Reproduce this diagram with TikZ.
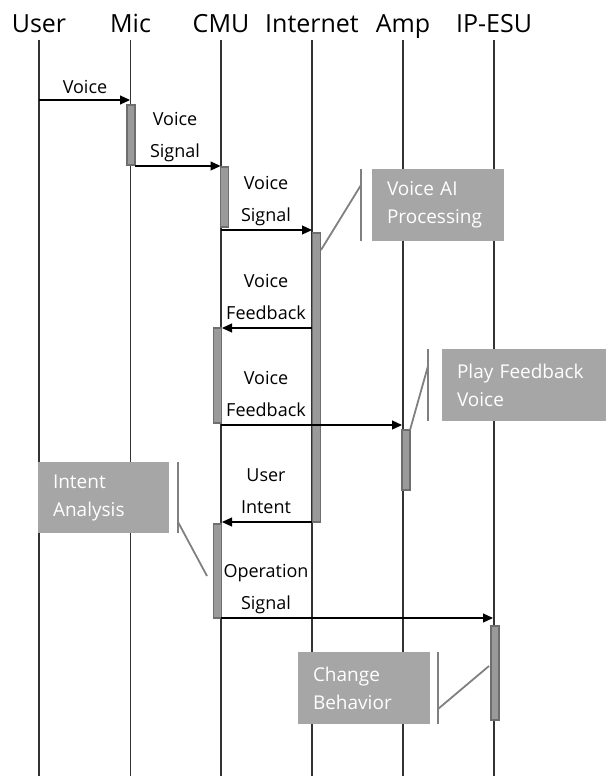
\documentclass[tikz,border=0pt]{standalone}
\usepackage{fontspec}
\setmainfont{Open Sans}
\usetikzlibrary{arrows.meta}
\definecolor{notefill}{HTML}{A6A6A6}
\definecolor{barfill}{HTML}{9A9A9A}
\definecolor{barline}{HTML}{6E6E6E}
\definecolor{linkgray}{HTML}{808080}
\begin{document}
\begin{tikzpicture}[x=1pt,y=-1pt,
  head/.style={font=\fontsize{25}{28}\selectfont, inner sep=0pt, anchor=base},
  life/.style={draw=black!80, line width=1.2pt},
  actbar/.style={rectangle, draw=barline, fill=barfill, line width=1.1pt, minimum width=8pt, inner sep=0pt},
  msg/.style={draw=black, line width=1.2pt, -{Triangle[length=10pt,width=9pt]}},
  lbl/.style={font=\fontsize{18}{32}\selectfont, align=center, inner sep=0pt, anchor=base},
  note/.style={rectangle, fill=notefill, text=white, font=\fontsize{19}{28}\selectfont, align=left, inner ysep=0pt, inner xsep=15pt, minimum height=72pt},
  notebar/.style={draw=linkgray, line width=2.4pt},
  notelink/.style={draw=linkgray, line width=1.8pt},
]
\useasboundingbox (0,0) rectangle (607,776);

% heads
\node[head] (hU) at (39,33) {User};
\node[head] (hM) at (130.5,33) {Mic};
\node[head] (hC) at (221,33) {CMU};
\node[head] (hI) at (312,33) {Internet};
\node[head] (hA) at (403,33) {Amp};
\node[head] (hE) at (494,33) {IP-ESU};

% lifelines
\coordinate (tU) at (39,40);    \coordinate (eU) at (39,776);
\coordinate (tM) at (130.5,40); \coordinate (eM) at (130.5,776);
\coordinate (tC) at (221,40);   \coordinate (eC) at (221,776);
\coordinate (tI) at (312,40);   \coordinate (eI) at (312,776);
\coordinate (tA) at (403,40);   \coordinate (eA) at (403,776);
\coordinate (tE) at (494,40);   \coordinate (eE) at (494,776);
\draw[life] (tU) -- (eU);
\draw[life] (tM) -- (eM);
\draw[life] (tC) -- (eC);
\draw[life] (tI) -- (eI);
\draw[life] (tA) -- (eA);
\draw[life] (tE) -- (eE);

% activation bars
\node[actbar, minimum height=60pt]  (b1) at (131,135) {};
\node[actbar, minimum height=60pt]  (b2) at (224.5,197) {};
\node[actbar, minimum height=289pt] (b3) at (316.5,377.5) {};
\node[actbar, minimum height=95pt]  (b4) at (217.5,375.5) {};
\node[actbar, minimum height=60pt]  (b5) at (406,460) {};
\node[actbar, minimum height=94pt]  (b6) at (217.5,571) {};
\node[actbar, minimum height=94pt]  (b7) at (495,673) {};

% messages
\coordinate (m1s) at (39,100);  \coordinate (m1e) at (130,100);
\coordinate (m2s) at (135,166); \coordinate (m2e) at (220.5,166);
\coordinate (m3s) at (221,230); \coordinate (m3e) at (312,230);
\coordinate (m4s) at (312,328); \coordinate (m4e) at (222,328);
\coordinate (m5s) at (221,425); \coordinate (m5e) at (402,425);
\coordinate (m6s) at (312,522); \coordinate (m6e) at (222,522);
\coordinate (m7s) at (221,618); \coordinate (m7e) at (493,618);
\draw[msg] (m1s) -- (m1e);
\draw[msg] (m2s) -- (m2e);
\draw[msg] (m3s) -- (m3e);
\draw[msg] (m4s) -- (m4e);
\draw[msg] (m5s) -- (m5e);
\draw[msg] (m6s) -- (m6e);
\draw[msg] (m7s) -- (m7e);

% message labels (base = baseline of last line)
\node[lbl] (l1) at (85,93) {Voice};
\node[lbl] (l2) at (175,157) {Voice\\Signal};
\node[lbl] (l3) at (266,221) {Voice\\Signal};
\node[lbl] (l4) at (266,319) {Voice\\Feedback};
\node[lbl] (l5) at (266,416) {Voice\\Feedback};
\node[lbl] (l6) at (266,513) {User\\Intent};
\node[lbl] (l7) at (266,609) {Operation\\Signal};

% notes
\node[note, minimum width=132pt, text width=102pt] (n1) at (438,205) {Voice AI\\Processing};
\node[note, minimum width=164pt, text width=134pt] (n2) at (524,385) {Play Feedback\\Voice};
\node[note, minimum width=131pt, text width=101pt, minimum height=71pt] (n3) at (103.5,497.5) {Intent\\Analysis};
\node[note, minimum width=132pt, text width=102pt] (n4) at (364,688) {Change\\Behavior};

% note links
\coordinate (n1t) at (361,169); \coordinate (n1b) at (361,241);
\coordinate (n1k) at (361,185); \coordinate (n1p) at (321,250);
\draw[notebar] (n1t) -- (n1b);
\draw[notelink] (n1k) -- (n1p);

\coordinate (n2t) at (428,349); \coordinate (n2b) at (428,421);
\coordinate (n2k) at (428,366); \coordinate (n2p) at (410,430);
\draw[notebar] (n2t) -- (n2b);
\draw[notelink] (n2k) -- (n2p);

\coordinate (n3t) at (178,462); \coordinate (n3b) at (178,533);
\coordinate (n3k) at (178,522); \coordinate (n3p) at (207,576);
\draw[notebar] (n3t) -- (n3b);
\draw[notelink] (n3k) -- (n3p);

\coordinate (n4t) at (438,652); \coordinate (n4b) at (438,724);
\coordinate (n4k) at (438,709); \coordinate (n4p) at (489,666);
\draw[notebar] (n4t) -- (n4b);
\draw[notelink] (n4k) -- (n4p);
\end{tikzpicture}
\end{document}
